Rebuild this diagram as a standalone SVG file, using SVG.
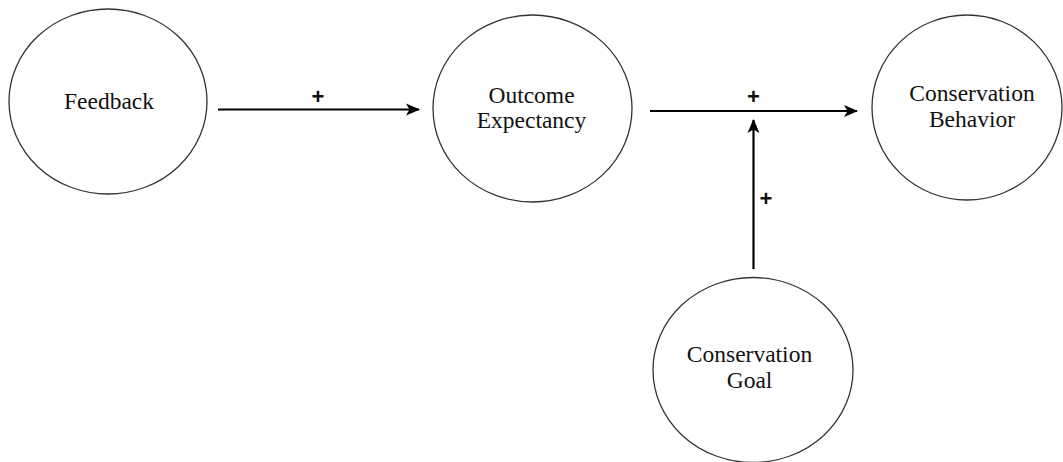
<svg xmlns="http://www.w3.org/2000/svg" width="1063" height="462" viewBox="0 0 1063 462">
  <style>
    .node ellipse { fill: #ffffff; stroke: #333333; stroke-width: 1.3; }
    .node text { font-family: "Liberation Serif", "Times New Roman", serif; font-size: 23.5px; fill: #111111; text-anchor: middle; }
    .edge { stroke: #000000; stroke-width: 2.2; fill: none; }
    .sign { font-family: "Liberation Sans", Arial, sans-serif; font-size: 22px; font-weight: bold; fill: #111111; text-anchor: middle; }
  </style>
  <defs>
    <marker id="arrow" markerUnits="userSpaceOnUse" viewBox="0 0 14 14" refX="13" refY="7" markerWidth="14" markerHeight="14" orient="auto">
      <path d="M0,1 L14,7 L0,13 L3.5,7 Z" fill="#000000"/>
    </marker>
  </defs>
  <rect width="1063" height="462" fill="#ffffff"/>
  <g id="feedback" class="node">
    <ellipse cx="108" cy="101.5" rx="99" ry="92.5"/>
    <text x="109" y="109">Feedback</text>
  </g>
  <g id="outcome-expectancy" class="node">
    <ellipse cx="532.5" cy="108.5" rx="99.5" ry="93.5"/>
    <text x="531.5" y="103">Outcome</text>
    <text x="531.5" y="128">Expectancy</text>
  </g>
  <g id="conservation-behavior" class="node">
    <ellipse cx="967" cy="107.5" rx="95" ry="92.5"/>
    <text x="972" y="101">Conservation</text>
    <text x="972" y="127">Behavior</text>
  </g>
  <g id="conservation-goal" class="node">
    <ellipse cx="753" cy="370" rx="100" ry="92.5"/>
    <text x="749.5" y="362">Conservation</text>
    <text x="749.5" y="388">Goal</text>
  </g>
  <g id="connectors">
    <line class="edge" x1="218" y1="109.5" x2="419" y2="109.5" marker-end="url(#arrow)"/>
    <line class="edge" x1="650" y1="111" x2="857" y2="111" marker-end="url(#arrow)"/>
    <line class="edge" x1="753.5" y1="269" x2="753.5" y2="120" marker-end="url(#arrow)"/>
    <text class="sign" x="318" y="104">+</text>
    <text class="sign" x="753.5" y="103.5">+</text>
    <text class="sign" x="766" y="205.5">+</text>
  </g>
</svg>
